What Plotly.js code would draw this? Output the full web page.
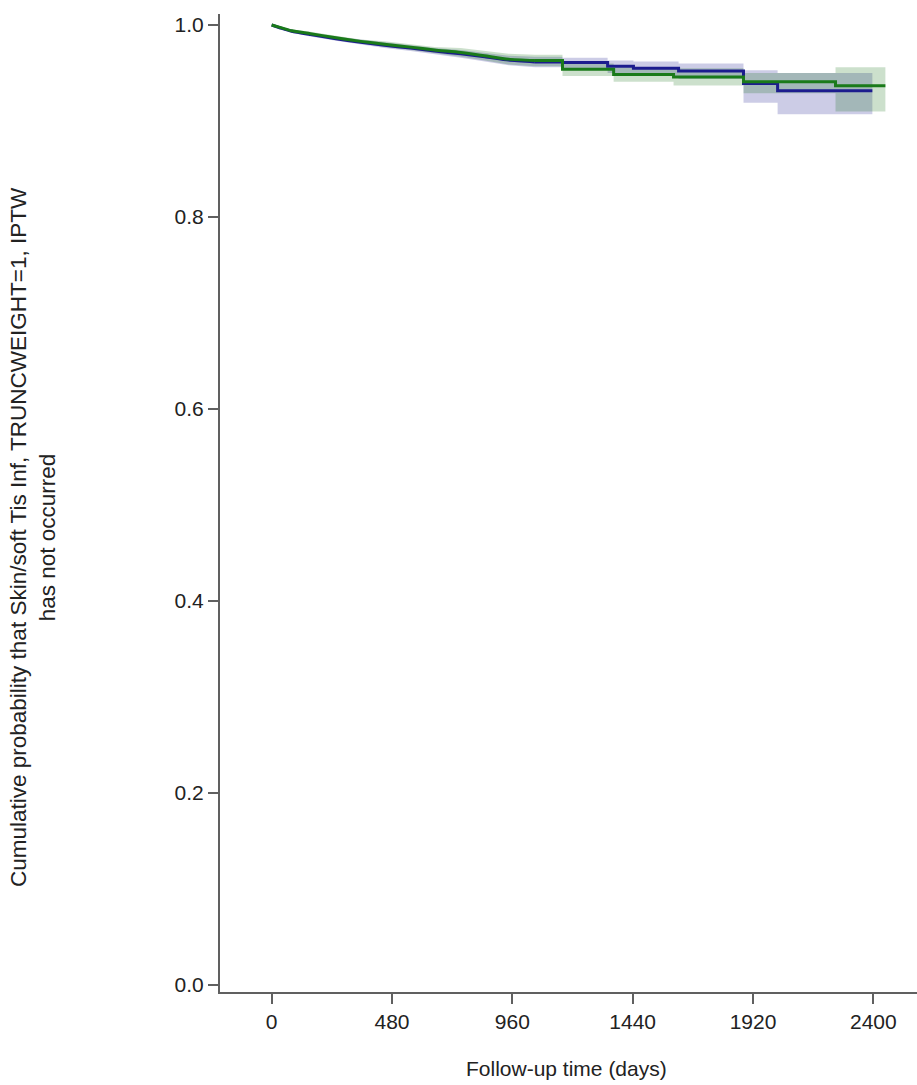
<!DOCTYPE html>
<html>
<head>
<meta charset="utf-8">
<script src="https://cdn.plot.ly/plotly-3.0.1.min.js"></script>
<style>html,body{margin:0;padding:0;background:#fff;}#chart{width:917px;height:1085px;}</style>
</head>
<body>
<div id="chart"></div>
<script>
// Blue group (Kaplan-Meier estimate with confidence band)
const blueTime  = [0, 40, 80, 155, 250, 355, 450, 554, 650, 754, 850, 945, 1050, 1160, 1340, 1443, 1623, 1882, 2018, 2396];
const blueSurv  = [1.000, 0.9965, 0.9935, 0.990, 0.986, 0.982, 0.979, 0.976, 0.973, 0.970, 0.967, 0.9635, 0.9615, 0.961, 0.957, 0.955, 0.952, 0.939, 0.9316, 0.9316];
const blueLower = [1.000, 0.995, 0.992, 0.988, 0.984, 0.980, 0.976, 0.973, 0.970, 0.966, 0.962, 0.958, 0.956, 0.954, 0.950, 0.947, 0.944, 0.919, 0.907, 0.907];
const blueUpper = [1.000, 0.998, 0.995, 0.992, 0.988, 0.985, 0.982, 0.979, 0.976, 0.974, 0.971, 0.968, 0.967, 0.966, 0.963, 0.962, 0.960, 0.953, 0.950, 0.950];

// Green group
const greenTime  = [0, 40, 80, 155, 250, 355, 450, 554, 650, 754, 850, 945, 1050, 1160, 1364, 1603, 1882, 2249, 2448];
const greenSurv  = [1.000, 0.997, 0.994, 0.991, 0.987, 0.983, 0.980, 0.977, 0.974, 0.9715, 0.968, 0.9645, 0.963, 0.954, 0.9486, 0.946, 0.941, 0.9367, 0.9367];
const greenLower = [1.000, 0.9955, 0.9925, 0.989, 0.985, 0.981, 0.977, 0.974, 0.971, 0.967, 0.963, 0.959, 0.957, 0.947, 0.941, 0.937, 0.929, 0.910, 0.910];
const greenUpper = [1.000, 0.9985, 0.9955, 0.993, 0.989, 0.985, 0.983, 0.980, 0.977, 0.976, 0.973, 0.970, 0.969, 0.960, 0.956, 0.955, 0.950, 0.956, 0.956];

// Up to this time the estimate has many small events (drawn smooth); afterwards it is drawn as steps
const smoothUntil = 1050;

const xTicks = [0, 480, 960, 1440, 1920, 2400];
const yTicks = [0.0, 0.2, 0.4, 0.6, 0.8, 1.0];
const yTitle = 'Cumulative probability that Skin/soft Tis Inf, TRUNCWEIGHT=1, IPTW<br>has not occurred';
const xTitle = 'Follow-up time (days)';

const FONT = 'Liberation Sans, Arial, sans-serif';

function split(t, arr) {
  const k = t.indexOf(smoothUntil);
  return {early: [t.slice(0, k + 1), arr.slice(0, k + 1)], late: [t.slice(k), arr.slice(k)]};
}

function band(t, lo, hi, color) {
  const out = [];
  const L = split(t, lo), H = split(t, hi);
  [['early', 'linear'], ['late', 'hv']].forEach(([part, shape]) => {
    out.push({x: L[part][0], y: L[part][1], type: 'scatter', mode: 'lines', line: {width: 0, shape: shape}, hoverinfo: 'skip', showlegend: false});
    out.push({x: H[part][0], y: H[part][1], type: 'scatter', mode: 'lines', line: {width: 0, shape: shape}, fill: 'tonexty', fillcolor: color, hoverinfo: 'skip', showlegend: false});
  });
  return out;
}

function curve(t, s, color) {
  const S = split(t, s);
  return [
    {x: S.early[0], y: S.early[1], type: 'scatter', mode: 'lines', line: {color: color, width: 3, shape: 'spline', smoothing: 0.6}, showlegend: false},
    {x: S.late[0], y: S.late[1], type: 'scatter', mode: 'lines', line: {color: color, width: 3, shape: 'hv'}, showlegend: false}
  ];
}

const traces = [
  ...band(blueTime, blueLower, blueUpper, 'rgba(0,0,130,0.2)'),
  ...band(greenTime, greenLower, greenUpper, 'rgba(0,100,0,0.2)'),
  ...curve(blueTime, blueSurv, '#1c1c8e'),
  ...curve(greenTime, greenSurv, '#1a7a1a')
];

const layout = {
  width: 917, height: 1085,
  margin: {l: 220, r: 0, t: 14, b: 93},
  paper_bgcolor: '#fff', plot_bgcolor: '#fff',
  showlegend: false,
  font: {family: FONT, size: 21, color: '#222'},
  xaxis: {
    range: [-206, 2574], tickvals: xTicks, ticktext: xTicks.map(String),
    showgrid: false, zeroline: false, showline: true, linecolor: '#606060', linewidth: 2,
    ticks: 'outside', ticklen: 10, tickwidth: 2, tickcolor: '#606060',
    tickfont: {family: FONT, size: 21, color: '#222'}
  },
  yaxis: {
    range: [-0.0073, 1.0115], tickvals: yTicks, ticktext: yTicks.map(v => v.toFixed(1)),
    showgrid: false, zeroline: false, showline: true, linecolor: '#606060', linewidth: 2,
    ticks: 'outside', ticklen: 10, tickwidth: 2, tickcolor: '#606060',
    tickfont: {family: FONT, size: 21, color: '#222'}
  },
  annotations: [
    {text: yTitle, xref: 'paper', yref: 'paper', x: (33 - 220) / 697, y: (992 - 537) / 978,
     xanchor: 'center', yanchor: 'middle', textangle: -90, showarrow: false,
     font: {family: FONT, size: 22.5, color: '#222'}},
    {text: xTitle, xref: 'paper', yref: 'paper', x: (566 - 220) / 697, y: (992 - 1068) / 978,
     xanchor: 'center', yanchor: 'middle', showarrow: false,
     font: {family: FONT, size: 21, color: '#222'}}
  ]
};

Plotly.newPlot('chart', traces, layout, {displayModeBar: false, staticPlot: true});
</script>
</body>
</html>
